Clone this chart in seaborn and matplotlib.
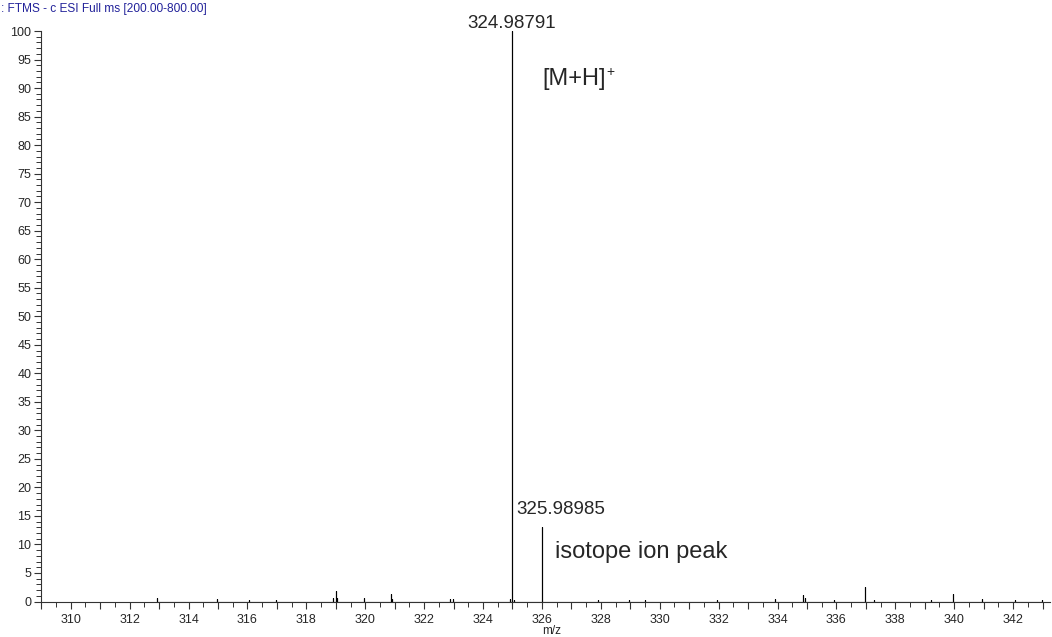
import matplotlib
matplotlib.use("Agg")
import matplotlib.pyplot as plt
from matplotlib.ticker import MultipleLocator, FuncFormatter
import numpy as np
import pandas as pd
import seaborn as sns

# Centroid peak list: m/z and relative abundance (%)
mz = [312.94, 314.98, 316.05, 316.98, 318.92, 319.0, 319.05, 319.95, 320.88, 320.92,
      322.87, 322.97, 324.93, 324.98791, 325.05, 325.98985, 327.92, 328.97, 329.5,
      331.96, 333.93, 334.88, 334.94, 335.93, 336.98, 337.29, 339.22, 339.97,
      340.95, 342.07, 342.99]
intensity = [0.7, 0.5, 0.2, 0.3, 0.6, 1.9, 0.7, 0.7, 1.3, 0.4,
             0.5, 0.5, 0.4, 100.0, 0.3, 13.0, 0.3, 0.3, 0.3,
             0.3, 0.4, 1.2, 0.7, 0.3, 2.6, 0.2, 0.2, 1.35,
             0.4, 0.2, 0.3]

main_label = "324.98791"
iso_label = "325.98985"
header = ": FTMS - c ESI Full ms [200.00-800.00]"

sns.set_theme(style="ticks")
plt.rcParams["font.family"] = ["Liberation Sans", "DejaVu Sans"]

# Stick spectrum as one continuous profile: baseline -> apex -> baseline
px, py = [], []
for m, h in zip(mz, intensity):
    px += [m, m, m]
    py += [0.0, h, 0.0]
profile = pd.DataFrame({"mz": px, "abundance": py})

fig = plt.figure(figsize=(10.52, 6.37), dpi=100)
ax = fig.add_axes([0.039, 0.0557, 0.959, 0.8956])

sns.lineplot(data=profile, x="mz", y="abundance", sort=False, estimator=None,
             color="black", linewidth=0.8, ax=ax)

ax.set_xlim(308.99, 343.25)
ax.set_ylim(0, 100)
for s in ["top", "right"]:
    ax.spines[s].set_visible(False)
for s in ["left", "bottom"]:
    ax.spines[s].set_linewidth(0.8)
    ax.spines[s].set_color("#333333")

ax.xaxis.set_major_locator(MultipleLocator(1))
ax.xaxis.set_minor_locator(MultipleLocator(0.5))
ax.xaxis.set_major_formatter(FuncFormatter(lambda v, p: f"{int(round(v))}" if int(round(v)) % 2 == 0 else ""))
ax.yaxis.set_major_locator(MultipleLocator(5))
ax.yaxis.set_minor_locator(MultipleLocator(1))
ax.tick_params(axis="both", which="major", length=5, width=0.8, color="#333333",
               labelsize=9, pad=2)
ax.tick_params(axis="both", which="minor", length=3.3, width=0.7, color="#333333")
ax.tick_params(axis="x", which="major", pad=4)
ax.set_xlabel("")
ax.set_ylabel("")

# Peak annotations
ax.annotate(main_label, xy=(324.98791, 100), xytext=(0, 2.5), textcoords="offset points",
            ha="center", va="baseline", fontsize=13.5, annotation_clip=False)
ax.text(325.12, 15.3, iso_label, ha="left", va="baseline", fontsize=13.5)
ion = ax.text(326.0, 90.5, "[M+H]", ha="left", va="baseline", fontsize=17)
ax.annotate("+", xy=(1, 1), xycoords=ion, xytext=(0.5, 2.0), textcoords="offset points",
            ha="left", va="top", fontsize=10)
ax.text(326.43, 7.6, "isotope ion peak", ha="left", va="baseline", fontsize=17)

fig.text(0.001, 0.986, header, ha="left", va="center", fontsize=8.6, color="#22229a")
fig.text(0.524, 0.009, "m/z", ha="center", va="center", fontsize=8.5)

fig.savefig("out.png", dpi=100)
